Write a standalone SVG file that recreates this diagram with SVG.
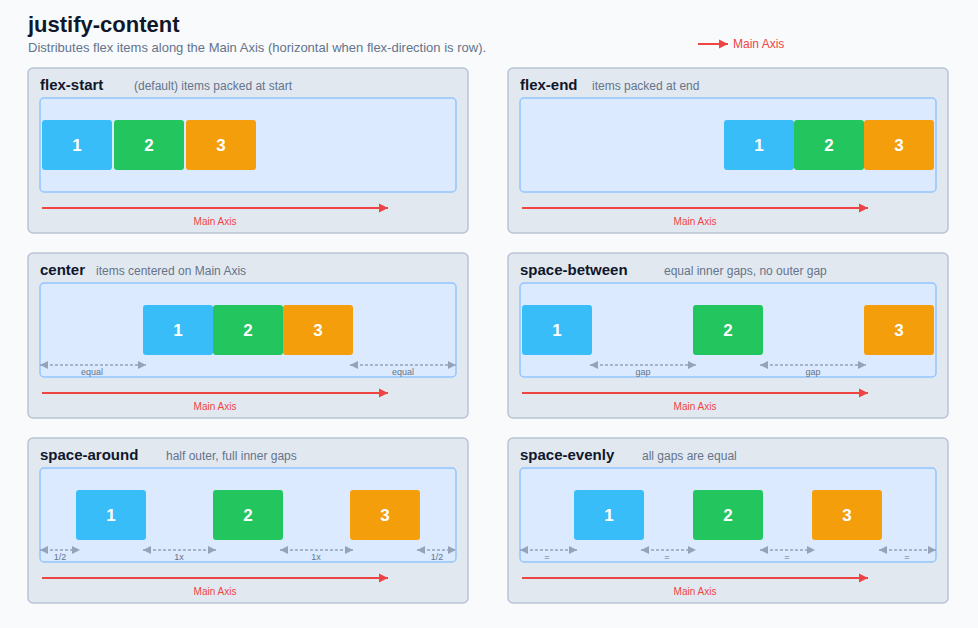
<svg xmlns="http://www.w3.org/2000/svg" width="978" height="628" viewBox="0 0 978 628">
<style>
  .bg{fill:#f8fafc}
  .panel{fill:#e2e8f0;stroke:#b9c5d4;stroke-width:1.5}
  .box{fill:#dbeafe;stroke:#93c5fd;stroke-width:1.5}
  .i1{fill:#38bdf8}.i2{fill:#22c55e}.i3{fill:#f59e0b}
  .num{font-family:"Liberation Sans",Arial,sans-serif;font-size:17px;font-weight:bold;fill:#fff;text-anchor:middle}
  .title{font-family:"Liberation Sans",Arial,sans-serif;font-size:22px;font-weight:bold;fill:#0f172a}
  .sub{font-family:"Liberation Sans",Arial,sans-serif;font-size:13px;fill:#64748b}
  .hd{font-family:"Liberation Sans",Arial,sans-serif;font-size:15px;font-weight:bold;fill:#0f172a}
  .desc{font-family:"Liberation Sans",Arial,sans-serif;font-size:12px;fill:#64748b}
  .axl{font-family:"Liberation Sans",Arial,sans-serif;font-size:10px;fill:#ef4444;text-anchor:middle}
  .leg{font-family:"Liberation Sans",Arial,sans-serif;font-size:12px;fill:#ef4444}
  .gl{font-family:"Liberation Sans",Arial,sans-serif;font-size:9px;fill:#64748b;text-anchor:middle}
  .axis{stroke:#ef4444;stroke-width:2;fill:none;marker-end:url(#ar)}
  .dim{stroke:#94a3b8;stroke-width:1.5;stroke-dasharray:3 2;fill:none;marker-start:url(#ag);marker-end:url(#ag)}
</style>
<defs>
  <marker id="ar" viewBox="0 0 10 10" refX="10" refY="5" markerWidth="9" markerHeight="10" orient="auto" markerUnits="userSpaceOnUse">
    <path d="M0,0 L10,5 L0,10 Z" fill="#ef4444"/>
  </marker>
  <marker id="ag" viewBox="0 0 10 10" refX="10" refY="5" markerWidth="8" markerHeight="8" orient="auto-start-reverse" markerUnits="userSpaceOnUse">
    <path d="M0,0 L10,5 L0,10 Z" fill="#94a3b8"/>
  </marker>
</defs>
<rect class="bg" x="0" y="0" width="978" height="628"/>

<g id="header">
  <text class="title" x="28" y="32">justify-content</text>
  <text class="sub" x="28" y="52">Distributes flex items along the Main Axis (horizontal when flex-direction is row).</text>
  <text class="leg" x="733" y="48">Main Axis</text>
</g>

<g id="panel-flex-start">
  <rect class="panel" x="28" y="68" width="440" height="165" rx="5"/>
  <text class="hd" x="40" y="90">flex-start</text>
  <text class="desc" x="134" y="90">(default) items packed at start</text>
  <rect class="box" x="40" y="98" width="416" height="94" rx="4"/>
  <rect class="i1" x="42" y="120" width="70" height="50" rx="3"/><text class="num" x="77" y="151">1</text>
  <rect class="i2" x="114" y="120" width="70" height="50" rx="3"/><text class="num" x="149" y="151">2</text>
  <rect class="i3" x="186" y="120" width="70" height="50" rx="3"/><text class="num" x="221" y="151">3</text>
  <text class="axl" x="215" y="225">Main Axis</text>
</g>

<g id="panel-flex-end">
  <rect class="panel" x="508" y="68" width="440" height="165" rx="5"/>
  <text class="hd" x="520" y="90">flex-end</text>
  <text class="desc" x="592" y="90">items packed at end</text>
  <rect class="box" x="520" y="98" width="416" height="94" rx="4"/>
  <rect class="i1" x="724" y="120" width="70" height="50" rx="3"/><text class="num" x="759" y="151">1</text>
  <rect class="i2" x="794" y="120" width="70" height="50" rx="3"/><text class="num" x="829" y="151">2</text>
  <rect class="i3" x="864" y="120" width="70" height="50" rx="3"/><text class="num" x="899" y="151">3</text>
  <text class="axl" x="695" y="225">Main Axis</text>
</g>

<g id="panel-center">
  <rect class="panel" x="28" y="253" width="440" height="165" rx="5"/>
  <text class="hd" x="40" y="275">center</text>
  <text class="desc" x="96" y="275">items centered on Main Axis</text>
  <rect class="box" x="40" y="283" width="416" height="94" rx="4"/>
  <rect class="i1" x="143" y="305" width="70" height="50" rx="3"/><text class="num" x="178" y="336">1</text>
  <rect class="i2" x="213" y="305" width="70" height="50" rx="3"/><text class="num" x="248" y="336">2</text>
  <rect class="i3" x="283" y="305" width="70" height="50" rx="3"/><text class="num" x="318" y="336">3</text>
  <text class="gl" x="92" y="375">equal</text>
  <text class="gl" x="403" y="375">equal</text>
  <text class="axl" x="215" y="410">Main Axis</text>
</g>

<g id="panel-space-between">
  <rect class="panel" x="508" y="253" width="440" height="165" rx="5"/>
  <text class="hd" x="520" y="275">space-between</text>
  <text class="desc" x="664" y="275">equal inner gaps, no outer gap</text>
  <rect class="box" x="520" y="283" width="416" height="94" rx="4"/>
  <rect class="i1" x="522" y="305" width="70" height="50" rx="3"/><text class="num" x="557" y="336">1</text>
  <rect class="i2" x="693" y="305" width="70" height="50" rx="3"/><text class="num" x="728" y="336">2</text>
  <rect class="i3" x="864" y="305" width="70" height="50" rx="3"/><text class="num" x="899" y="336">3</text>
  <text class="gl" x="643" y="375">gap</text>
  <text class="gl" x="813" y="375">gap</text>
  <text class="axl" x="695" y="410">Main Axis</text>
</g>

<g id="panel-space-around">
  <rect class="panel" x="28" y="438" width="440" height="165" rx="5"/>
  <text class="hd" x="40" y="460">space-around</text>
  <text class="desc" x="166" y="460">half outer, full inner gaps</text>
  <rect class="box" x="40" y="468" width="416" height="94" rx="4"/>
  <rect class="i1" x="76" y="490" width="70" height="50" rx="3"/><text class="num" x="111" y="521">1</text>
  <rect class="i2" x="213" y="490" width="70" height="50" rx="3"/><text class="num" x="248" y="521">2</text>
  <rect class="i3" x="350" y="490" width="70" height="50" rx="3"/><text class="num" x="385" y="521">3</text>
  <text class="gl" x="60" y="560">1/2</text>
  <text class="gl" x="179" y="560">1x</text>
  <text class="gl" x="316" y="560">1x</text>
  <text class="gl" x="437" y="560">1/2</text>
  <text class="axl" x="215" y="595">Main Axis</text>
</g>

<g id="panel-space-evenly">
  <rect class="panel" x="508" y="438" width="440" height="165" rx="5"/>
  <text class="hd" x="520" y="460">space-evenly</text>
  <text class="desc" x="642" y="460">all gaps are equal</text>
  <rect class="box" x="520" y="468" width="416" height="94" rx="4"/>
  <rect class="i1" x="574" y="490" width="70" height="50" rx="3"/><text class="num" x="609" y="521">1</text>
  <rect class="i2" x="693" y="490" width="70" height="50" rx="3"/><text class="num" x="728" y="521">2</text>
  <rect class="i3" x="812" y="490" width="70" height="50" rx="3"/><text class="num" x="847" y="521">3</text>
  <text class="gl" x="547" y="560">=</text>
  <text class="gl" x="667" y="560">=</text>
  <text class="gl" x="787" y="560">=</text>
  <text class="gl" x="907" y="560">=</text>
  <text class="axl" x="695" y="595">Main Axis</text>
</g>

<g id="connectors">
  <line class="axis" x1="698" y1="44" x2="728" y2="44"/>
  <line class="axis" x1="42" y1="208" x2="388" y2="208"/>
  <line class="axis" x1="522" y1="208" x2="868" y2="208"/>
  <line class="axis" x1="42" y1="393" x2="388" y2="393"/>
  <line class="axis" x1="522" y1="393" x2="868" y2="393"/>
  <line class="axis" x1="42" y1="578" x2="388" y2="578"/>
  <line class="axis" x1="522" y1="578" x2="868" y2="578"/>
  <line class="dim" x1="40" y1="365" x2="146" y2="365"/>
  <line class="dim" x1="350" y1="365" x2="456" y2="365"/>
  <line class="dim" x1="590" y1="365" x2="696" y2="365"/>
  <line class="dim" x1="760" y1="365" x2="866" y2="365"/>
  <line class="dim" x1="40" y1="550" x2="80" y2="550"/>
  <line class="dim" x1="143" y1="550" x2="216" y2="550"/>
  <line class="dim" x1="280" y1="550" x2="353" y2="550"/>
  <line class="dim" x1="417" y1="550" x2="456" y2="550"/>
  <line class="dim" x1="520" y1="550" x2="577" y2="550"/>
  <line class="dim" x1="641" y1="550" x2="696" y2="550"/>
  <line class="dim" x1="760" y1="550" x2="815" y2="550"/>
  <line class="dim" x1="879" y1="550" x2="936" y2="550"/>
</g>
</svg>
